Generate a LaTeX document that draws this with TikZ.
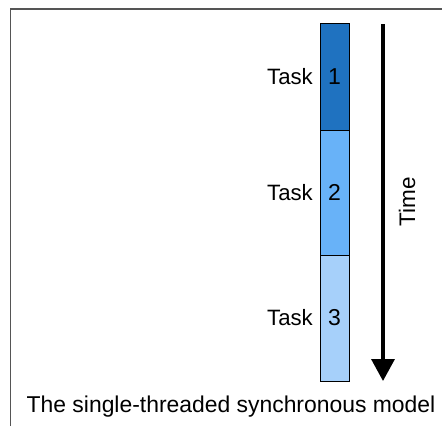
\documentclass[tikz,border=0pt]{standalone}
\usepackage{fontspec}
\setmainfont{Liberation Sans}
\usetikzlibrary{arrows.meta}
\definecolor{taskA}{RGB}{31,114,192}
\definecolor{taskB}{RGB}{104,178,248}
\definecolor{taskC}{RGB}{166,208,250}
\definecolor{framegray}{RGB}{85,85,85}
\tikzset{
  seg/.style={draw=black, line width=1pt, minimum width=29pt, inner sep=0pt, font=\fontsize{23}{27}\selectfont},
  tasklabel/.style={anchor=east, inner sep=0pt, font=\fontsize{22.2}{27}\selectfont},
  timearrow/.style={line width=3.5pt, -{Triangle[width=23pt,length=22pt]}},
}
\begin{document}
\begin{tikzpicture}[x=1pt,y=-1pt]
\useasboundingbox (0,0) rectangle (442,426);
\draw[framegray, line width=1.5pt] (10.5,426) -- (10.5,9) -- (442,9);
\node[seg, fill=taskA, minimum height=106.5pt] (t1) at (334.5,76.75) {1};
\node[seg, fill=taskB, minimum height=125pt] (t2) at (334.5,192.5) {2};
\node[seg, fill=taskC, minimum height=126pt] (t3) at (334.5,318) {3};
\node[tasklabel] (l1) at (313,76.75) {Task};
\node[tasklabel] (l2) at (313,192.5) {Task};
\node[tasklabel] (l3) at (313,318) {Task};
\coordinate (as) at (383,24);
\coordinate (ae) at (383,381);
\draw[timearrow] (as) -- (ae);
\node[rotate=90, inner sep=0pt, font=\fontsize{22.5}{27}\selectfont] (time) at (407,202) {Time};
\node[anchor=base, inner sep=0pt, font=\fontsize{22.9}{27}\selectfont] (cap) at (231,412) {The single-threaded synchronous model};
\end{tikzpicture}
\end{document}
